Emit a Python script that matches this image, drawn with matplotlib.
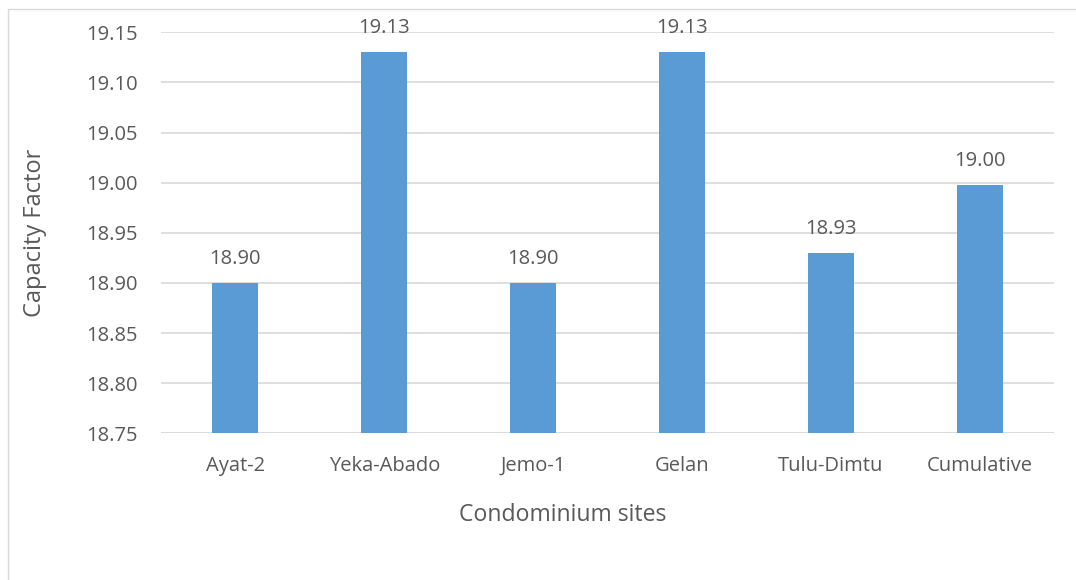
import matplotlib
matplotlib.use("Agg")
import matplotlib.pyplot as plt
from matplotlib.patches import Rectangle

categories = ["Ayat-2", "Yeka-Abado", "Jemo-1", "Gelan", "Tulu-Dimtu", "Cumulative"]
values = [18.90, 19.13, 18.90, 19.13, 18.93, 18.998]
labels = ["18.90", "19.13", "18.90", "19.13", "18.93", "19.00"]
yticks = [18.75, 18.80, 18.85, 18.90, 18.95, 19.00, 19.05, 19.10, 19.15]

plt.rcParams['font.family'] = ['Open Sans', 'DejaVu Sans']
W, H = 1076, 580
fig = plt.figure(figsize=(W/100, H/100), dpi=100)
fig.patch.set_facecolor('white')
fig.patches.append(Rectangle((8/W, -0.1), 1.2, 1 - 9/H + 0.1, transform=fig.transFigure,
                             fill=False, edgecolor='#D9D9D9', linewidth=1.0))

ax = fig.add_axes([161/W, 1 - 433.3/H, (1054-161)/W, (433.3-32.3)/H])
txt = '#595959'
x = range(len(categories))
ax.bar(x, [v - 18.75 for v in values], bottom=18.75, width=0.31, color='#5B9BD5', zorder=3)
ax.set_xlim(-0.5, len(categories) - 0.5)
ax.set_ylim(18.75, 19.15)
ax.set_yticks(yticks)
ax.set_yticklabels([f"{t:.2f}" for t in yticks])
ax.set_xticks(list(x))
ax.set_xticklabels(categories)
ax.grid(axis='y', color='#D9D9D9', linewidth=1.2, zorder=0)
for s in ax.spines.values():
    s.set_visible(False)
ax.axhline(18.75, color='#D9D9D9', linewidth=1.2, zorder=2)
ax.tick_params(axis='both', length=0, colors=txt, labelsize=14.5)
ax.tick_params(axis='y', pad=17)
ax.tick_params(axis='x', pad=16)
for i, (v, l) in enumerate(zip(values, labels)):
    ax.annotate(l, (i, v), xytext=(0, 10), textcoords='offset points',
                ha='center', va='bottom', fontsize=14.5, color=txt)
ax.set_ylabel("Capacity Factor", fontsize=17, color=txt)
ax.set_xlabel("Condominium sites", fontsize=16.6, color=txt)
ax.yaxis.set_label_coords((35 - 161) / (1054 - 161), 0.5)
ax.xaxis.set_label_coords((563 - 161) / (1054 - 161), -(515 - 433.3) / (433.3 - 32.3))
ax.yaxis.label.set_va('center')
ax.xaxis.label.set_va('center')
fig.savefig("out.png", dpi=100, facecolor='white')
